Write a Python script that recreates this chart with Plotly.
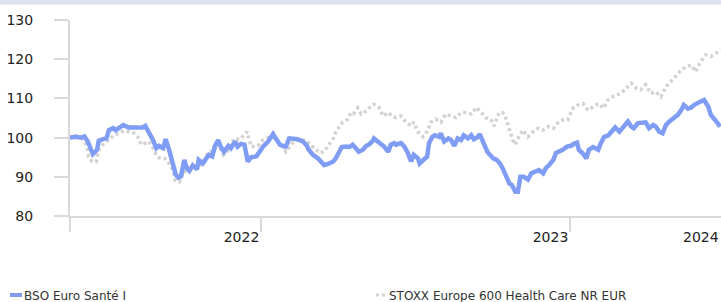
import pandas as pd
import plotly.graph_objects as go

# ---- data ----
start_date = "2021-05-20"
range_days = 769

fund_name = "BSO Euro Santé I"
bench_name = "STOXX Europe 600 Health Care NR EUR"

fund_days = [0, 7, 13, 17, 21, 25, 27, 32, 34, 39, 43, 46, 51, 54, 58, 63, 69, 74, 80, 86,
             89, 92, 96, 98, 102, 105, 110, 113, 117, 122, 125, 128, 131, 135, 138, 141, 145, 150, 152, 157,
             161, 164, 168, 171, 175, 178, 182, 187, 190, 195, 198, 202, 206, 210, 214, 220, 223, 228, 234, 237,
             240, 243, 248, 253, 255, 259, 263, 269, 275, 279, 282, 287, 293, 296, 300, 305, 311, 314, 318, 321,
             326, 330, 334, 338, 341, 346, 350, 353, 357, 359, 364, 367, 371, 376, 379, 383, 385, 391, 395, 399,
             403, 406, 411, 413, 417, 422, 424, 428, 431, 436, 438, 442, 447, 450, 454, 458, 462, 465, 470, 474,
             477, 482, 484, 488, 493, 496, 500, 504, 508, 511, 514, 519, 522, 526, 529, 532, 536, 541, 545, 550,
             554, 559, 562, 566, 571, 574, 578, 582, 587, 592, 595, 599, 601, 606, 610, 613, 618, 624, 627, 631,
             636, 639, 644, 649, 653, 659, 663, 666, 671, 677, 680, 684, 689, 692, 696, 700, 704, 708, 713, 718,
             722, 725, 730, 734, 737, 742, 745, 749, 754, 757, 761, 765, 768]
fund_values = [100.0, 100.2, 100.0, 100.3, 99.0, 96.8, 95.8, 96.9, 99.2, 99.6, 99.8, 101.9, 102.4, 101.9, 102.6, 103.2, 102.6, 102.6, 102.4, 102.6,
               103.0, 101.8, 100.7, 99.4, 97.3, 97.9, 97.3, 99.6, 96.9, 93.4, 90.5, 89.8, 90.1, 94.3, 92.2, 91.5, 92.9, 91.9, 94.3, 93.4,
               94.7, 95.6, 95.2, 97.7, 99.4, 97.7, 96.4, 97.9, 97.3, 99.0, 97.7, 98.4, 98.2, 93.9, 95.0, 95.2, 96.1, 97.7, 99.0, 99.8,
               100.9, 99.8, 98.2, 97.7, 97.7, 99.8, 99.8, 99.6, 99.0, 98.2, 96.9, 95.6, 94.7, 93.9, 93.0, 93.3, 93.9, 94.7, 96.1, 97.6,
               97.7, 97.6, 98.2, 97.3, 96.4, 96.9, 97.9, 98.2, 99.0, 99.8, 99.0, 98.6, 97.7, 96.4, 98.2, 98.6, 98.2, 98.6, 97.7, 96.1,
               93.9, 95.6, 94.7, 93.4, 94.3, 95.2, 98.5, 100.2, 100.6, 100.2, 101.1, 99.0, 99.8, 99.4, 97.9, 99.8, 99.4, 100.6, 99.8, 100.6,
               99.6, 100.2, 100.9, 98.6, 96.4, 95.6, 94.7, 94.3, 93.4, 92.2, 90.5, 88.3, 87.9, 86.2, 86.2, 90.0, 90.0, 89.3, 90.9, 91.3,
               91.7, 90.9, 92.2, 93.0, 94.3, 96.1, 96.4, 96.9, 97.7, 97.9, 98.4, 98.7, 96.9, 95.9, 94.7, 96.9, 97.6, 96.9, 98.6, 100.2,
               100.6, 101.5, 102.6, 101.5, 102.4, 104.1, 102.8, 102.4, 103.7, 103.7, 103.9, 102.4, 103.2, 102.8, 101.5, 101.1, 103.2, 104.1, 104.9, 105.8,
               107.0, 108.3, 107.4, 107.7, 108.3, 108.7, 109.2, 109.6, 107.9, 105.8, 104.9, 103.7, 102.8]

bench_days = [0, 7, 15, 20, 22, 26, 31, 34, 40, 46, 52, 58, 64, 70, 76, 80, 84, 89, 93, 98,
              103, 107, 112, 117, 122, 124, 129, 135, 138, 145, 152, 159, 164, 170, 175, 181, 188, 194, 200, 206,
              209, 214, 222, 228, 234, 239, 243, 252, 255, 263, 270, 279, 285, 291, 294, 300, 306, 311, 314, 318,
              322, 328, 332, 335, 340, 344, 350, 356, 359, 365, 370, 376, 380, 385, 391, 397, 403, 406, 411, 417,
              423, 426, 432, 438, 444, 450, 456, 462, 468, 474, 480, 486, 491, 497, 501, 507, 511, 514, 519, 523,
              526, 530, 535, 541, 547, 553, 559, 565, 571, 576, 582, 588, 594, 600, 606, 612, 618, 624, 630, 635,
              641, 651, 657, 663, 669, 674, 680, 686, 692, 698, 704, 710, 716, 722, 728, 734, 739, 745, 751, 757,
              763, 768]
bench_values = [100.0, 100.4, 99.8, 97.7, 95.1, 93.9, 93.9, 96.9, 98.6, 99.4, 100.7, 101.1, 101.8, 101.5, 101.1, 100.2, 98.2, 98.6, 99.0, 97.3,
                95.1, 94.7, 94.7, 93.4, 91.3, 89.2, 88.7, 91.5, 91.0, 92.0, 92.5, 94.5, 96.4, 96.5, 98.5, 95.6, 97.0, 99.8, 99.5, 100.7,
                101.5, 97.7, 97.9, 99.4, 100.0, 100.2, 99.4, 97.9, 96.4, 98.6, 99.4, 99.4, 97.9, 96.9, 96.1, 96.4, 98.2, 99.8, 101.5, 102.8,
                103.9, 104.7, 106.4, 106.1, 107.6, 106.0, 106.8, 108.1, 108.5, 107.7, 105.5, 106.4, 105.5, 105.1, 105.5, 103.9, 103.0, 103.9, 101.5, 100.2,
                101.9, 103.9, 104.7, 103.9, 106.0, 105.5, 105.1, 106.4, 106.4, 106.0, 107.7, 106.4, 105.1, 104.7, 103.0, 106.4, 106.4, 105.5, 102.2, 99.4,
                98.2, 100.2, 101.9, 100.2, 101.5, 102.4, 101.9, 102.8, 102.4, 103.7, 104.5, 104.5, 107.5, 108.3, 108.7, 107.0, 107.9, 108.7, 107.5, 109.5,
                110.4, 111.3, 112.6, 113.9, 112.6, 112.2, 113.5, 111.3, 111.7, 110.4, 113.0, 114.3, 115.6, 117.2, 118.1, 118.5, 116.8, 119.4, 121.1, 120.7,
                121.5, 122.5]

y_ticks = [80, 90, 100, 110, 120, 130]
x_tick_dates = ["2021-05-20", "2022-01-01", "2023-01-01"]
x_tick_text = ["", "2022", "2023"]
last_label = "2024"

# ---- build ----
t0 = pd.Timestamp(start_date)
fund_x = t0 + pd.to_timedelta(fund_days, unit="D")
bench_x = t0 + pd.to_timedelta(bench_days, unit="D")
x_end = t0 + pd.Timedelta(days=range_days)

BLUE = "#7f9df5"
GRAY = "#d2d2d2"
AXIS = "#d9d9d9"
FONT = "DejaVu Sans"
TXT = "#222222"

fig = go.Figure()
fig.add_trace(go.Scatter(x=bench_x, y=bench_values, mode="lines", name=bench_name,
                         line=dict(color=GRAY, width=3.5, dash="3px,3px"), hoverinfo="skip"))
fig.add_trace(go.Scatter(x=fund_x, y=fund_values, mode="lines", name=fund_name,
                         line=dict(color=BLUE, width=4.5), hoverinfo="skip"))

fig.update_layout(
    width=721, height=302,
    margin=dict(l=70, r=0, t=20, b=86),
    paper_bgcolor="white", plot_bgcolor="white",
    showlegend=False,
    font=dict(family=FONT, size=14, color=TXT),
    xaxis=dict(type="date", range=[t0, x_end], tickmode="array",
               tickvals=[pd.Timestamp(d) for d in x_tick_dates], ticktext=x_tick_text,
               ticks="outside", ticklen=14, tickwidth=2, tickcolor=AXIS,
               ticklabelposition="outside left", ticklabelstandoff=7, automargin=False,
               showline=True, linecolor=AXIS, linewidth=2, showgrid=False, zeroline=False,
               tickfont=dict(family=FONT, size=14, color=TXT)),
    yaxis=dict(range=[80, 130], tickmode="array", tickvals=y_ticks,
               ticks="outside", ticklen=14, tickwidth=2, tickcolor=AXIS,
               ticklabelstandoff=18, automargin=False,
               showline=True, linecolor=AXIS, linewidth=2, showgrid=False, zeroline=False,
               tickfont=dict(family=FONT, size=14, color=TXT)),
)

def px_x(p):
    return (p - 70) / 651.0

def px_y(p):
    return (216 - p) / 196.0

# top band
fig.add_shape(type="rect", xref="paper", yref="paper", x0=px_x(-2), x1=px_x(723),
              y0=px_y(4.5), y1=px_y(-2), fillcolor="#dde2ee", line=dict(width=0), layer="above")

# last year label at the cropped right edge
fig.add_annotation(xref="paper", yref="paper", x=px_x(721), y=px_y(236.5), text=last_label,
                   showarrow=False, xanchor="right", yanchor="middle",
                   font=dict(family=FONT, size=14, color=TXT))

# legend
fig.add_shape(type="line", xref="paper", yref="paper", x0=px_x(10), x1=px_x(22),
              y0=px_y(295), y1=px_y(295), line=dict(color=BLUE, width=4))
fig.add_shape(type="line", xref="paper", yref="paper", x0=px_x(376), x1=px_x(387),
              y0=px_y(295), y1=px_y(295), line=dict(color=GRAY, width=3, dash="3px,3px"))
fig.add_annotation(xref="paper", yref="paper", x=px_x(22), y=px_y(295.5), text=fund_name,
                   showarrow=False, xanchor="left", yanchor="middle",
                   font=dict(family=FONT, size=12, color="#333333"))
fig.add_annotation(xref="paper", yref="paper", x=px_x(387), y=px_y(295.5), text=bench_name,
                   showarrow=False, xanchor="left", yanchor="middle",
                   font=dict(family=FONT, size=12, color="#333333"))

fig.write_html("out.html", config={"displayModeBar": False},
               post_script="document.body.style.margin='0';document.body.style.overflow='hidden';")
